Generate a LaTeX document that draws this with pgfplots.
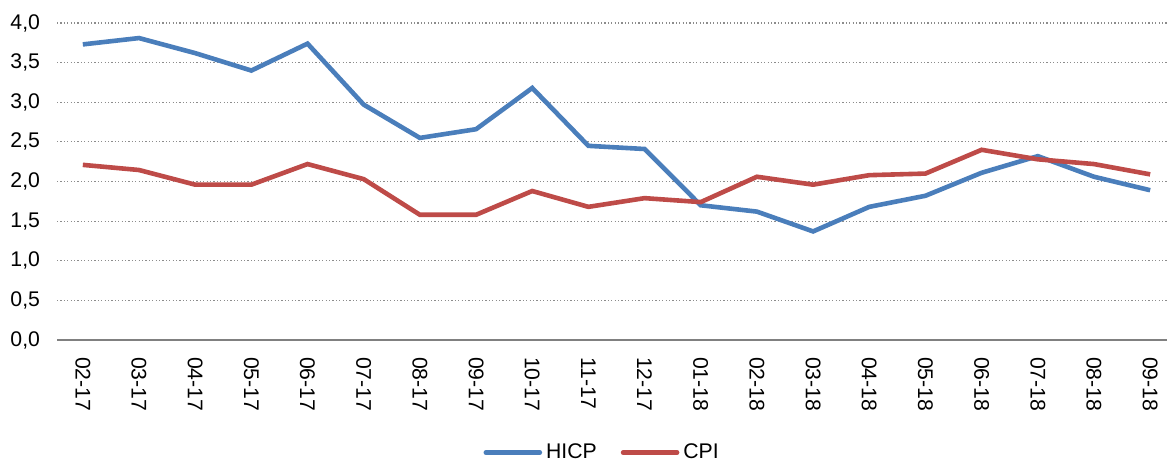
\documentclass[border=0pt]{standalone}
\usepackage{pgfplots}
\pgfplotsset{compat=1.18}
\usepackage{fontspec}
\setmainfont{Liberation Sans}
\definecolor{hicp}{HTML}{4A7EBB}
\definecolor{cpi}{HTML}{BE4B48}
\begin{document}
\begin{tikzpicture}
\useasboundingbox (-28.5pt,-60pt) rectangle (555pt,170pt);
\begin{axis}[
  at={(0,0)}, anchor=south west,
  scale only axis,
  width=555pt, height=158.5pt,
  xmin=-0.46, xmax=19.3,
  ymin=0, ymax=4,
  ytick={0,0.5,...,4},
  xtick={0,...,19},
  xticklabels={02-17,03-17,04-17,05-17,06-17,07-17,08-17,09-17,10-17,11-17,12-17,01-18,02-18,03-18,04-18,05-18,06-18,07-18,08-18,09-18},
  axis x line*=bottom,
  axis y line*=left,
  y axis line style={draw=none},
  x axis line style={draw=gray, line width=0.8pt, -},
  major tick length=0pt,
  ymajorgrids,
  grid style={gray!90, line width=0.6pt, dash pattern=on 0.6pt off 1.1pt},
  xticklabel style={rotate=-90, anchor=west, font=\fontsize{10.6}{12}\selectfont, xshift=5pt},
  yticklabel style={font=\fontsize{10.6}{12}\selectfont, xshift=-5pt},
  /pgf/number format/.cd, use comma, fixed, fixed zerofill, precision=1, assume math mode=true,
  /pgfplots/.cd,
  legend columns=2,
  legend style={at={(0.492,-0.355)}, anchor=center, draw=none, font=\fontsize{10.6}{12}\selectfont,
    /tikz/every even column/.append style={column sep=10pt}},
  legend image code/.code={\draw[#1, line cap=round] (0pt,0pt) -- (27pt,0pt);},
]
\addplot[hicp, line width=2.3pt] coordinates {
(0,3.73) (1,3.81) (2,3.62) (3,3.40) (4,3.74) (5,2.97) (6,2.55) (7,2.66) (8,3.18) (9,2.45)
(10,2.41) (11,1.70) (12,1.62) (13,1.37) (14,1.68) (15,1.82) (16,2.11) (17,2.32) (18,2.06) (19,1.89)};
\addlegendentry{HICP}
\addplot[cpi, line width=2.3pt] coordinates {
(0,2.21) (1,2.145) (2,1.96) (3,1.96) (4,2.22) (5,2.03) (6,1.58) (7,1.58) (8,1.88) (9,1.68)
(10,1.79) (11,1.74) (12,2.06) (13,1.96) (14,2.08) (15,2.10) (16,2.40) (17,2.28) (18,2.22) (19,2.09)};
\addlegendentry{CPI}
\end{axis}
\end{tikzpicture}
\end{document}
